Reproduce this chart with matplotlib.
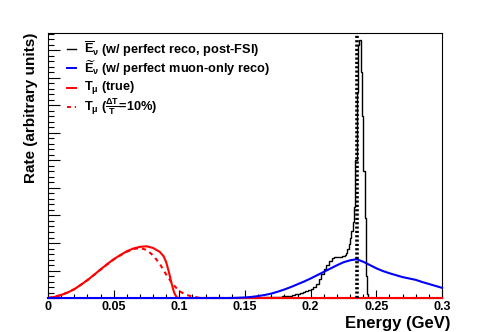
import numpy as np
from matplotlib import pyplot as plt
from matplotlib.ticker import MultipleLocator, FixedLocator, FixedFormatter

plt.rcParams['font.family'] = ['Liberation Sans', 'DejaVu Sans']
plt.rcParams['font.weight'] = 'bold'
plt.rcParams['mathtext.fontset'] = 'custom'
plt.rcParams['mathtext.rm'] = 'Liberation Sans:bold'
plt.rcParams['mathtext.it'] = 'Liberation Sans:bold'
plt.rcParams['mathtext.bf'] = 'Liberation Sans:bold'

# T_mu (true)
tmu_x = [0.000, 0.005, 0.010, 0.015, 0.020, 0.025, 0.030, 0.035, 0.040, 0.045,
         0.050, 0.055, 0.060, 0.065, 0.070, 0.075, 0.080, 0.085, 0.088, 0.090,
         0.092, 0.094, 0.096, 0.098, 0.100, 0.300]
tmu_y = [0.0, 0.04, 0.11, 0.20, 0.32, 0.48, 0.65, 0.84, 1.04, 1.23,
         1.41, 1.56, 1.70, 1.80, 1.86, 1.88, 1.82, 1.68, 1.52, 1.30,
         0.95, 0.55, 0.20, 0.02, 0.0, 0.0]

# T_mu smeared (dT/T = 10%)
tmu_s_x = [0.000, 0.005, 0.010, 0.015, 0.020, 0.025, 0.030, 0.035, 0.040, 0.045,
           0.050, 0.055, 0.060, 0.065, 0.070, 0.075, 0.080, 0.085, 0.090, 0.095,
           0.100, 0.105, 0.110, 0.115, 0.120, 0.300]
tmu_s_y = [0.0, 0.04, 0.11, 0.20, 0.32, 0.48, 0.65, 0.84, 1.03, 1.22,
           1.40, 1.55, 1.68, 1.78, 1.82, 1.75, 1.55, 1.25, 0.85, 0.50,
           0.25, 0.12, 0.05, 0.01, 0.0, 0.0]

# E_nu tilde (muon-only reco)
enu_mu_x = [0.000, 0.140, 0.145, 0.150, 0.155, 0.160, 0.165, 0.170, 0.175, 0.180,
            0.185, 0.190, 0.195, 0.200, 0.205, 0.210, 0.215, 0.220, 0.225, 0.230,
            0.235, 0.240, 0.245, 0.250, 0.255, 0.260, 0.265, 0.270, 0.275, 0.280,
            0.285, 0.290, 0.295, 0.300]
enu_mu_y = [0.0, 0.0, 0.01, 0.02, 0.04, 0.07, 0.11, 0.16, 0.23, 0.31,
            0.40, 0.50, 0.60, 0.71, 0.83, 0.95, 1.07, 1.19, 1.30, 1.37,
            1.41, 1.32, 1.20, 1.08, 0.98, 0.90, 0.83, 0.76, 0.71, 0.66,
            0.58, 0.51, 0.44, 0.37]

# E_nu bar (perfect reco, post-FSI) histogram
enu_edges = np.concatenate([np.round(np.arange(0.150, 0.2261, 0.002), 3),
                            np.round(np.arange(0.227, 0.2441, 0.001), 3)])
enu_vals = [0.0, 0.005, 0.005, 0.01, 0.01, 0.01, 0.015, 0.02, 0.02, 0.025,
            0.03, 0.035, 0.04, 0.05, 0.06, 0.07, 0.08, 0.09, 0.11, 0.13,
            0.16, 0.19, 0.22, 0.25, 0.28, 0.32, 0.40, 0.52, 0.68, 0.86,
            1.05, 1.20, 1.34, 1.45, 1.50, 1.48, 1.50, 1.52,
            1.55, 1.65, 1.78, 1.97, 2.18, 2.42, 2.75, 3.3, 5.0, 7.5,
            9.2, 9.38, 8.2, 6.6, 4.6, 2.9, 0.8, 0.15]

true_enu = 0.2353

xtick_vals = [0, 0.05, 0.1, 0.15, 0.2, 0.25, 0.3]
xtick_labels = ['0', '0.05', '0.1', '0.15', '0.2', '0.25', '0.3']

legend_labels = [
    r'$\overline{E}_{\nu}$ (w/ perfect reco, post-FSI)',
    r'$\widetilde{E}_{\nu}$ (w/ perfect muon-only reco)',
    r'$T_{\mu}$ (true)',
    r'$T_{\mu}$ ($\frac{\Delta T}{T}$=10%)',
]
legend_colors = ['black', 'blue', 'red', 'red']
legend_styles = ['-', '-', '-', (0, (2, 2))]

fig = plt.figure(figsize=(4.91, 3.32), dpi=100)
ax = fig.add_axes([0.0978, 0.1024, 0.8024, 0.7982])

ax.stairs(enu_vals, enu_edges, color='black', lw=1.0, zorder=2)
ax.plot(tmu_s_x, tmu_s_y, color='red', lw=1.5, ls=(0, (2, 2)), zorder=3, clip_on=False)
ax.plot(tmu_x, tmu_y, color='red', lw=1.5, zorder=3, clip_on=False)
ax.plot(enu_mu_x, enu_mu_y, color='blue', lw=1.5, zorder=4, clip_on=False)
ax.axvline(true_enu, color='black', lw=2.6, ls=(0, (0.6, 0.6)), zorder=5)

# legend drawn row by row, ROOT style
row_y = 0.9385
for lab, col, ls in zip(legend_labels, legend_colors, legend_styles):
    ax.plot([0.047, 0.071], [row_y, row_y], transform=ax.transAxes, color=col,
            lw=1.4 if col != 'black' else 1.0, ls=ls)
    ax.text(0.092, row_y, lab, transform=ax.transAxes, fontsize=9.2,
            fontweight='bold', va='center', ha='left')
    row_y -= 0.0722

ax.set_xlim(0, 0.3)
ax.set_ylim(0, 9.636)
ax.xaxis.set_major_locator(FixedLocator(xtick_vals))
ax.xaxis.set_major_formatter(FixedFormatter(xtick_labels))
ax.xaxis.set_minor_locator(MultipleLocator(0.01))
ax.yaxis.set_major_locator(MultipleLocator(1))
ax.yaxis.set_minor_locator(MultipleLocator(0.2))
ax.tick_params(axis='x', which='major', direction='in', length=5.5, width=0.8,
               labelsize=9, pad=2)
ax.tick_params(axis='x', which='minor', direction='in', length=2.9, width=0.8)
ax.tick_params(axis='y', which='major', direction='in', length=8.6, width=0.8,
               labelleft=False)
ax.tick_params(axis='y', which='minor', direction='in', length=4.3, width=0.8)
for s in ax.spines.values():
    s.set_linewidth(0.8)

ax.set_xlabel('Energy (GeV)', fontsize=12, fontweight='bold', loc='right')
ax.xaxis.set_label_coords(1.022, -0.068)
ax.set_ylabel('Rate (arbitrary units)', fontsize=11, fontweight='bold', loc='top')
ax.yaxis.set_label_coords(-0.026, 1.0)

fig.savefig('out.png', dpi=100)
